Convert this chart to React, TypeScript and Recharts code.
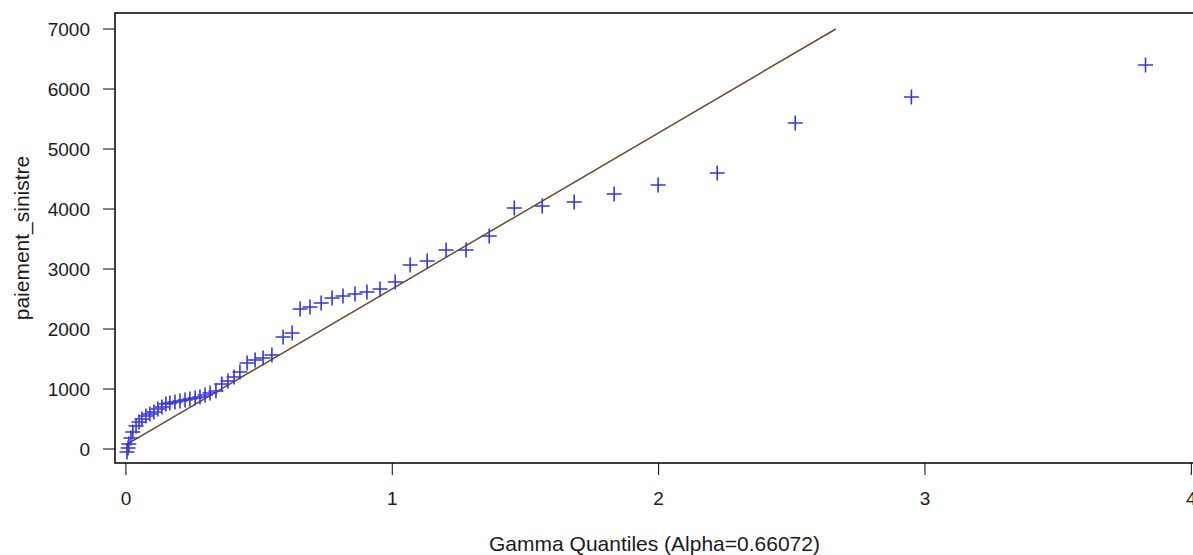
import { ReferenceArea, Scatter, ScatterChart, XAxis, YAxis } from "recharts";

// gamma theoretical quantiles (x) vs observed claim payments (y)
const quantiles = [
  0.004, 0.008, 0.011, 0.019, 0.026, 0.038, 0.049, 0.06, 0.075, 0.09,
  0.105, 0.12, 0.135, 0.15, 0.165, 0.184, 0.203, 0.222, 0.24, 0.26,
  0.278, 0.297, 0.316, 0.338, 0.36, 0.383, 0.406, 0.428, 0.455, 0.485,
  0.515, 0.548, 0.59, 0.624, 0.654, 0.691, 0.733, 0.774, 0.815, 0.86,
  0.905, 0.954, 1.011, 1.067, 1.131, 1.202, 1.277, 1.364, 1.458, 1.563,
  1.683, 1.833, 1.998, 2.22, 2.513, 2.949, 3.828
];
const paiements = [
  -50, 17, 83, 183, 283, 383, 450, 500, 550, 583,
  617, 667, 700, 750, 767, 783, 800, 817, 833, 850,
  867, 900, 933, 967, 1083, 1133, 1200, 1283, 1433, 1483,
  1517, 1567, 1867, 1933, 2333, 2367, 2433, 2517, 2550, 2583,
  2617, 2667, 2783, 3067, 3133, 3317, 3317, 3550, 4017, 4050,
  4117, 4250, 4400, 4600, 5433, 5867, 6400
];
const refLineX = [0, 2.665];
const refLineY = [70, 7000];
const xTicks = [0, 1, 2, 3, 4];
const yTicks = [0, 1000, 2000, 3000, 4000, 5000, 6000, 7000];

const xDomain = [-0.041, 4.01];
const yDomain = [-233, 7267];

const points = quantiles.map((q, i) => ({ q, v: paiements[i] }));
const refLine = refLineX.map((q, i) => ({ q, v: refLineY[i] }));

const font = "'Liberation Sans', Arial, sans-serif";
const tick = { fill: "#1a1a1a", fontSize: 19, fontFamily: font };

function Plus(props: any) {
  const { cx, cy } = props;
  if (cx == null || cy == null) return null;
  const r = 7.5;
  return (
    <path
      d={`M${cx - r},${cy}H${cx + r}M${cx},${cy - r}V${cy + r}`}
      stroke="#3535e0"
      strokeWidth={1.6}
      fill="none"
    />
  );
}

export default function App() {
  return (
    <div style={{ position: "absolute", left: 0, top: 0, width: 1193, height: 555, overflow: "hidden", background: "#fff" }}>
      <ScatterChart width={1200} height={555} margin={{ top: 13, right: 6, bottom: 0, left: 0 }}>
        <XAxis
          type="number"
          dataKey="q"
          domain={xDomain}
          ticks={xTicks}
          allowDataOverflow
          height={92}
          tickSize={12}
          tickMargin={17}
          axisLine={false}
          tickLine={{ stroke: "#000" }}
          tick={tick}
          label={{ value: "Gamma Quantiles (Alpha=0.66072)", position: "insideBottom", offset: 4, fill: "#1a1a1a", fontSize: 21, fontFamily: font }}
        />
        <YAxis
          type="number"
          dataKey="v"
          domain={yDomain}
          ticks={yTicks}
          allowDataOverflow
          width={115}
          tickSize={12}
          tickMargin={13}
          axisLine={false}
          tickLine={{ stroke: "#000" }}
          tick={tick}
          label={{ value: "paiement_sinistre", angle: -90, position: "insideLeft", offset: 22, fill: "#1a1a1a", fontSize: 21, fontFamily: font, style: { textAnchor: "middle" } }}
        />
        <ReferenceArea x1={xDomain[0]} x2={xDomain[1]} y1={yDomain[0]} y2={yDomain[1]} fill="none" stroke="#000" strokeWidth={1.5} ifOverflow="visible" />
        <Scatter data={refLine} line={{ stroke: "#6b4a2b", strokeWidth: 1.5 }} shape={() => null} isAnimationActive={false} />
        <Scatter data={points} shape={Plus} isAnimationActive={false} />
      </ScatterChart>
    </div>
  );
}
